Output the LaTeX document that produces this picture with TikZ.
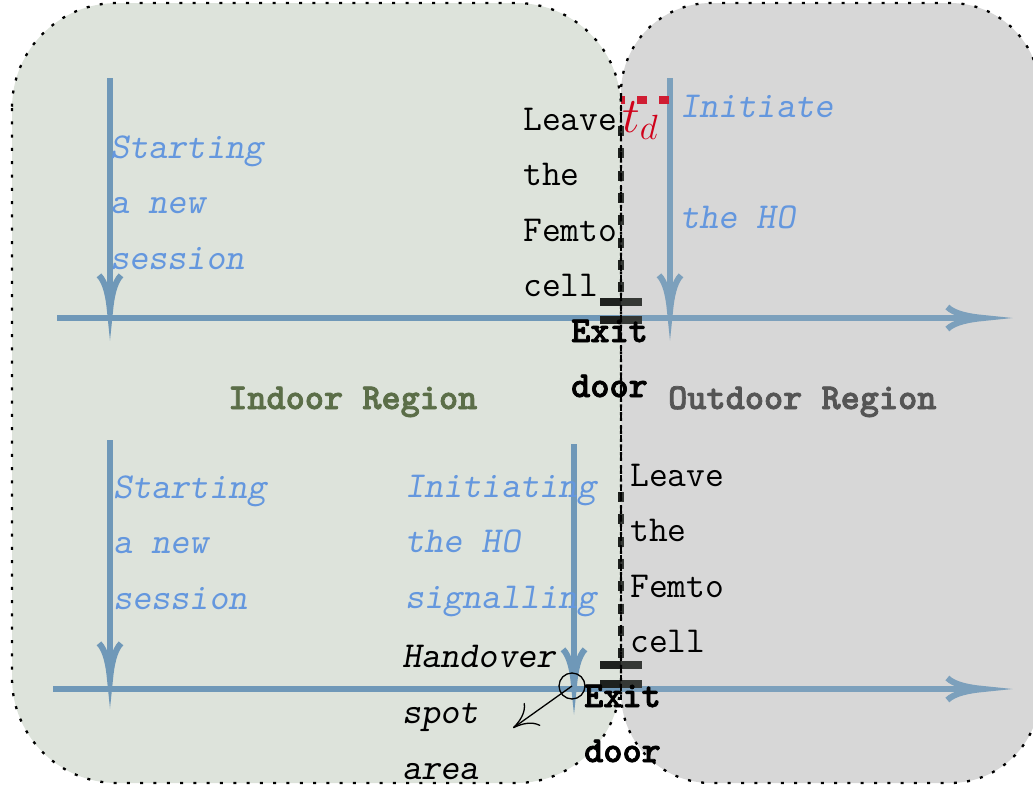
\RequirePackage{fix-cm}
\documentclass[tikz,border=0pt]{standalone}
\usepackage{fontspec}
\newfontfamily\heavymono{lmmonolt10-bold.otf}[FakeBold=2]
\usetikzlibrary{arrows.meta}
\definecolor{indoorfill}{HTML}{DDE3DB}
\definecolor{outdoorfill}{HTML}{D7D7D7}
\definecolor{flowblue}{HTML}{6F98B8}
\definecolor{notesblue}{HTML}{6497DE}
\definecolor{indoortext}{HTML}{5B6E48}
\definecolor{outdoortext}{HTML}{555555}
\definecolor{delayred}{HTML}{D0021B}
\definecolor{wallgray}{HTML}{1E211E}
\begin{document}
\begin{tikzpicture}[x=1pt,y=-1pt,
  region/.style={draw=black, line width=2.3pt, dash pattern=on 3pt off 10.3pt},
  flow/.style={draw=flowblue, line width=6pt, miter limit=40,
    -{Computer Modern Rightarrow[length=42pt,width=28pt,sharp]}},
  wall/.style={draw=wallgray, line width=6pt, dash pattern=on 10pt off 12.3pt},
  doorbar/.style={draw=wallgray, line width=8pt},
  txt/.style={inner sep=0pt, anchor=base west, align=left,
    font=\ttfamily\fontsize{36.5}{55.5}\selectfont},
  note/.style={txt, text=notesblue, font=\ttfamily\slshape\fontsize{36.5}{55.5}\selectfont},
  plain/.style={txt, text=black},
  doorlabel/.style={txt, text=black, font=\heavymono\fontsize{36.5}{55}\selectfont},
  regionlabel/.style={txt, font=\heavymono\fontsize{36.5}{55}\selectfont},
  spotnote/.style={txt, text=black, font=\ttfamily\slshape\fontsize{36.5}{56}\selectfont}
]
\useasboundingbox (0,0) rectangle (1033,787);

% the two regions
\fill[indoorfill, rounded corners=105pt] (12,3) rectangle (621,783);
\fill[outdoorfill, rounded corners=90pt] (621,3) rectangle (1040,783);

% time lines
\coordinate (t1s) at (57,318);   \coordinate (t1e) at (1018,318);
\coordinate (t2s) at (53,689);   \coordinate (t2e) at (1018,689);
\coordinate (a1s) at (110,78);   \coordinate (a1e) at (110,346);
\coordinate (a2s) at (670,78);   \coordinate (a2e) at (670,346);
\coordinate (a3s) at (110,440);  \coordinate (a3e) at (110,714);
\coordinate (a4s) at (574,444);  \coordinate (a4e) at (574,720);
\draw[flow] (t1s) -- (t1e);
\draw[flow] (t2s) -- (t2e);
\draw[flow] (a1s) -- (a1e);
\draw[flow] (a2s) -- (a2e);
\draw[flow] (a3s) -- (a3e);
\draw[flow] (a4s) -- (a4e);

% femtocell wall and exit doors
\draw[wall] (621,126) -- (621,300);
\draw[wall] (621,492) -- (621,665);
\draw[doorbar] (600,302) -- (642,302);
\draw[doorbar] (600,320) -- (642,320);
\draw[doorbar] (600,665) -- (642,665);
\draw[doorbar] (600,684) -- (642,684);

% detection delay
\draw[delayred, line width=8pt, dash pattern=on 10pt off 12pt] (669,100) -- (621,100);

% outdoor haze over the lines
\fill[outdoorfill, fill opacity=0.13, rounded corners=90pt] (621,3) rectangle (1040,783);

% region borders and the boundary between them
\draw[region, rounded corners=105pt] (12,3) rectangle (621,783);
\draw[region, rounded corners=90pt] (621,3) rectangle (1040,783);
\draw[black, line width=1.4pt, dash pattern=on 6pt off 4pt] (621,95) -- (621,700);

% handover spot
\node[circle, draw=black, line width=1.3pt, minimum size=26pt, inner sep=0pt] (spot) at (572,686) {};
\coordinate (spottip) at (513,728);
\draw[line width=1.3pt, -{Computer Modern Rightarrow[length=24pt,width=28pt]}] (spot.center) -- (spottip);

% labels (anchored at the baseline of their last line)
\node[note] (start1) at (110,269) {Starting\\a new\\session};
\node[plain] (leave1) at (523,296.5) {Leave\\the\\Femto\\cell};
\node[note] (init1) at (680,228) {Initiate\\[55.5pt]the HO};
\node[doorlabel] (exit1) at (571,397) {Exit\\door};
\node[regionlabel, text=indoortext] (indoor) at (228,409) {Indoor Region};
\node[regionlabel, text=outdoortext] (outdoor) at (668,409) {Outdoor Region};
\node[note] (start2) at (113,609) {Starting\\a new\\session};
\node[note] (init2) at (405,608) {Initiating\\the HO\\signalling};
\node[plain] (leave2) at (630,652.5) {Leave\\the\\Femto\\cell};
\node[doorlabel] (exit2) at (584,762) {Exit\\door};
\node[spotnote] (handover) at (402,779) {Handover\\spot\\area};
\node[text=delayred, inner sep=0pt, anchor=base west, font=\fontsize{50}{50}\selectfont] (td) at (622,132) {$t_d$};
\end{tikzpicture}
\end{document}
